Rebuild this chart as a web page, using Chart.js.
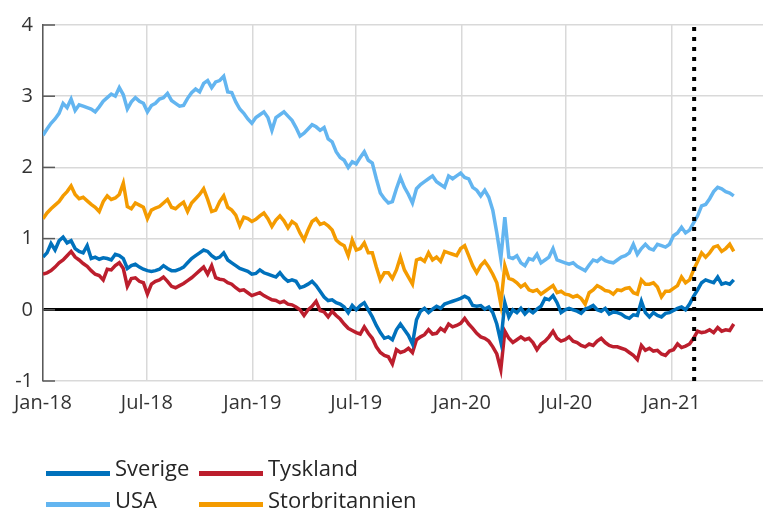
<!DOCTYPE html>
<html>
<head>
<meta charset="utf-8">
<script src="https://cdn.jsdelivr.net/npm/chart.js@4.4.0/dist/chart.umd.min.js"></script>
<style>
  body { margin: 0; background: #fff; }
  #wrap { position: relative; width: 764px; height: 512px; font-family: 'Open Sans', sans-serif; color: #262626; }
  .key { position: absolute; width: 64px; height: 5px; }
  .lab { position: absolute; font-size: 22px; line-height: 22px; white-space: nowrap; }
</style>
</head>
<body>
<div id="wrap">
  <canvas id="chart" width="764" height="512"></canvas>
  <div id="legend"></div>
</div>
<script>
const seriesNames = ['Sverige', 'Tyskland', 'USA', 'Storbritannien']
const seriesColors = ['#0071bc', '#bc1e2d', '#63b5f0', '#f49b00']

// x axis is days since 1 Jan 2018
const tickDays = [0, 181, 365, 546, 730, 912, 1096]
const tickLabels = ['Jan-18', 'Jul-18', 'Jan-19', 'Jul-19', 'Jan-20', 'Jul-20', 'Jan-21']
const markerDay = 1135   // dotted line, early Feb 2021
const lastDay = 1255

// weekly readings, Jan 2018 - Apr 2021
const sverige = [
  0.74, 0.80, 0.93, 0.84, 0.97, 1.02, 0.94, 0.97, 0.86, 0.82, 0.80, 0.90, 0.72, 0.74, 0.71, 0.73, 0.72, 0.70,
  0.78, 0.76, 0.72, 0.58, 0.62, 0.64, 0.60, 0.57, 0.55, 0.54, 0.55, 0.57, 0.62, 0.58, 0.55, 0.55, 0.57, 0.60,
  0.66, 0.72, 0.76, 0.80, 0.84, 0.82, 0.76, 0.72, 0.74, 0.80, 0.70, 0.66, 0.62, 0.58, 0.56, 0.54, 0.50, 0.51,
  0.56, 0.52, 0.50, 0.48, 0.46, 0.52, 0.45, 0.40, 0.42, 0.40, 0.31, 0.33, 0.36, 0.40, 0.34, 0.26, 0.18, 0.13,
  0.14, 0.10, 0.08, 0.04, -0.04, 0.06, 0.00, 0.06, 0.10, 0.00, -0.10, -0.22, -0.32, -0.40, -0.38, -0.42, -0.28, -0.20,
  -0.28, -0.36, -0.48, -0.14, -0.02, 0.02, -0.04, 0.01, 0.05, 0.02, 0.08, 0.10, 0.12, 0.14, 0.16, 0.19, 0.16, 0.06,
  0.05, 0.06, 0.01, 0.04, -0.04, -0.20, -0.45, 0.10, -0.10, 0.00, -0.04, 0.02, -0.06, 0.00, -0.04, 0.01, 0.05, 0.16,
  0.14, 0.20, 0.10, -0.04, 0.00, 0.02, 0.00, -0.02, -0.05, 0.01, 0.03, 0.06, 0.00, -0.02, 0.02, -0.06, -0.03, -0.04,
  -0.06, -0.10, -0.12, -0.07, -0.08, 0.12, -0.04, -0.10, -0.04, -0.08, -0.10, -0.05, -0.04, -0.01, 0.02,
  0.04, 0.00, 0.08, 0.19, 0.28, 0.38, 0.42, 0.40, 0.38, 0.46, 0.36, 0.38, 0.36, 0.42
]
const tyskland = [
  0.50, 0.52, 0.55, 0.60, 0.66, 0.70, 0.76, 0.82, 0.74, 0.70, 0.65, 0.61, 0.55, 0.50, 0.48, 0.42, 0.57, 0.56,
  0.62, 0.66, 0.58, 0.33, 0.44, 0.45, 0.40, 0.38, 0.22, 0.36, 0.40, 0.42, 0.46, 0.40, 0.33, 0.31, 0.34, 0.37,
  0.41, 0.45, 0.50, 0.55, 0.60, 0.50, 0.62, 0.45, 0.43, 0.42, 0.38, 0.36, 0.31, 0.27, 0.28, 0.24, 0.20, 0.22,
  0.24, 0.20, 0.17, 0.14, 0.13, 0.10, 0.12, 0.08, 0.07, 0.04, 0.00, -0.08, 0.00, 0.05, 0.12, -0.01, -0.03, -0.10,
  -0.02, -0.08, -0.13, -0.20, -0.26, -0.29, -0.32, -0.34, -0.24, -0.33, -0.40, -0.52, -0.60, -0.64, -0.66, -0.76, -0.56, -0.60,
  -0.58, -0.54, -0.60, -0.42, -0.38, -0.35, -0.28, -0.34, -0.33, -0.26, -0.30, -0.20, -0.24, -0.22, -0.19, -0.12, -0.20, -0.26,
  -0.33, -0.38, -0.40, -0.44, -0.52, -0.62, -0.84, -0.30, -0.40, -0.46, -0.42, -0.38, -0.42, -0.40, -0.46, -0.56, -0.48, -0.44,
  -0.38, -0.30, -0.40, -0.44, -0.42, -0.38, -0.44, -0.46, -0.50, -0.52, -0.48, -0.50, -0.44, -0.40, -0.46, -0.50, -0.52, -0.52,
  -0.54, -0.56, -0.60, -0.64, -0.70, -0.50, -0.57, -0.54, -0.58, -0.57, -0.62, -0.64, -0.58, -0.56, -0.48,
  -0.53, -0.51, -0.48, -0.40, -0.30, -0.32, -0.31, -0.28, -0.32, -0.25, -0.30, -0.28, -0.29, -0.20
]
const usa = [
  2.45, 2.54, 2.62, 2.68, 2.76, 2.90, 2.84, 2.96, 2.80, 2.88, 2.86, 2.84, 2.82, 2.78, 2.85, 2.93, 2.98, 3.03,
  3.00, 3.12, 3.02, 2.82, 2.92, 2.98, 2.93, 2.90, 2.78, 2.87, 2.90, 2.96, 2.98, 3.04, 2.94, 2.90, 2.86, 2.87,
  2.97, 3.05, 3.10, 3.06, 3.18, 3.22, 3.12, 3.20, 3.22, 3.28, 3.06, 3.05, 2.92, 2.82, 2.76, 2.68, 2.62, 2.70,
  2.74, 2.78, 2.70, 2.52, 2.70, 2.74, 2.78, 2.72, 2.66, 2.56, 2.44, 2.48, 2.54, 2.60, 2.57, 2.52, 2.56, 2.40,
  2.36, 2.22, 2.14, 2.10, 2.00, 2.08, 2.05, 2.14, 2.22, 2.10, 2.06, 1.84, 1.64, 1.56, 1.50, 1.52, 1.70, 1.86,
  1.72, 1.62, 1.50, 1.70, 1.76, 1.80, 1.84, 1.88, 1.80, 1.76, 1.72, 1.88, 1.84, 1.88, 1.92, 1.86, 1.84, 1.72,
  1.68, 1.60, 1.68, 1.58, 1.40, 1.08, 0.72, 1.30, 0.74, 0.72, 0.76, 0.66, 0.62, 0.72, 0.70, 0.78, 0.66, 0.70,
  0.74, 0.86, 0.70, 0.68, 0.66, 0.64, 0.66, 0.61, 0.58, 0.55, 0.63, 0.70, 0.68, 0.73, 0.69, 0.67, 0.66, 0.70,
  0.74, 0.76, 0.80, 0.92, 0.78, 0.86, 0.92, 0.86, 0.84, 0.92, 0.90, 0.88, 0.92, 1.04, 1.08,
  1.16, 1.08, 1.12, 1.22, 1.32, 1.46, 1.48, 1.56, 1.66, 1.72, 1.70, 1.66, 1.64, 1.60
]
const storbritannien = [
  1.28, 1.36, 1.42, 1.47, 1.52, 1.60, 1.66, 1.74, 1.62, 1.56, 1.58, 1.53, 1.48, 1.44, 1.38, 1.52, 1.60, 1.55,
  1.57, 1.62, 1.78, 1.45, 1.42, 1.50, 1.47, 1.44, 1.28, 1.40, 1.43, 1.45, 1.50, 1.55, 1.44, 1.42, 1.47, 1.51,
  1.38, 1.50, 1.56, 1.62, 1.70, 1.55, 1.38, 1.40, 1.52, 1.60, 1.44, 1.40, 1.33, 1.18, 1.30, 1.28, 1.24, 1.27,
  1.32, 1.36, 1.28, 1.17, 1.26, 1.32, 1.25, 1.15, 1.24, 1.20, 1.08, 0.98, 1.12, 1.24, 1.28, 1.20, 1.22, 1.18,
  1.12, 0.98, 0.93, 0.90, 0.76, 0.98, 0.84, 0.86, 0.94, 0.80, 0.80, 0.60, 0.42, 0.52, 0.52, 0.44, 0.56, 0.74,
  0.56, 0.46, 0.36, 0.70, 0.72, 0.68, 0.80, 0.70, 0.74, 0.68, 0.82, 0.80, 0.78, 0.76, 0.86, 0.90, 0.76, 0.62,
  0.52, 0.62, 0.68, 0.60, 0.50, 0.38, 0.08, 0.62, 0.44, 0.42, 0.38, 0.32, 0.36, 0.28, 0.26, 0.28, 0.22, 0.26,
  0.30, 0.34, 0.24, 0.26, 0.22, 0.21, 0.18, 0.20, 0.16, 0.08, 0.24, 0.28, 0.34, 0.31, 0.27, 0.26, 0.22, 0.28,
  0.27, 0.30, 0.31, 0.24, 0.22, 0.42, 0.36, 0.36, 0.38, 0.32, 0.18, 0.26, 0.26, 0.30, 0.34,
  0.46, 0.38, 0.42, 0.56, 0.68, 0.80, 0.74, 0.80, 0.88, 0.90, 0.82, 0.86, 0.92, 0.82
]
const seriesValues = [sverige, tyskland, usa, storbritannien]

const weekDays = sverige.map((v, i) => i * 7)

function toPoints (values) {
  return values.map((v, i) => ({ x: weekDays[i], y: v }))
}

const gridGrey = '#d9d9d9'
const textColor = '#333333'

// small inward tick marks on the y axis, like the original
const innerTicks = {
  id: 'innerTicks',
  beforeDatasetsDraw (chart) {
    const { ctx, chartArea, scales } = chart
    ctx.save()
    ctx.strokeStyle = '#595959'
    ctx.lineWidth = 1.5
    for (const t of scales.y.ticks) {
      const py = scales.y.getPixelForValue(t.value)
      ctx.beginPath()
      ctx.moveTo(chartArea.left, py)
      ctx.lineTo(chartArea.left + 12, py)
      ctx.stroke()
    }
    ctx.restore()
  }
}

const datasets = [{
  label: 'marker',
  data: [{ x: markerDay, y: -1 }, { x: markerDay, y: 4 }],
  borderColor: '#000000',
  borderWidth: 4,
  borderDash: [4, 6],
  pointRadius: 0
}]
seriesNames.forEach((name, i) => {
  datasets.push({
    label: name,
    data: toPoints(seriesValues[i]),
    borderColor: seriesColors[i],
    backgroundColor: seriesColors[i],
    borderWidth: 3.5,
    pointRadius: 0,
    tension: 0
  })
})

const chart = new Chart(document.getElementById('chart'), {
  type: 'line',
  data: { datasets: datasets },
  plugins: [innerTicks],
  options: {
    responsive: false,
    animation: false,
    devicePixelRatio: 1,
    layout: { padding: { top: 25, right: 1, left: 0, bottom: 0 } },
    plugins: {
      legend: { display: false },
      tooltip: { enabled: false }
    },
    scales: {
      x: {
        type: 'linear',
        min: 0,
        max: lastDay,
        afterBuildTicks (scale) {
          scale.ticks = tickDays.map(v => ({ value: v }))
        },
        afterFit (scale) {
          scale.height = 131
        },
        ticks: {
          autoSkip: false,
          maxRotation: 0,
          padding: 10,
          color: textColor,
          font: { family: 'Open Sans', size: 20 },
          callback: (value) => tickLabels[tickDays.indexOf(value)]
        },
        grid: { color: gridGrey, lineWidth: 1.5, drawTicks: false },
        border: { display: false }
      },
      y: {
        min: -1,
        max: 4,
        afterFit (scale) {
          scale.width = 43
        },
        ticks: {
          stepSize: 1,
          padding: 10,
          color: textColor,
          font: { family: 'Open Sans', size: 20 }
        },
        grid: {
          drawTicks: false,
          color: (c) => c.tick && c.tick.value === 0 ? '#000000' : gridGrey,
          lineWidth: (c) => c.tick && c.tick.value === 0 ? 3 : 1.5
        },
        border: { display: true, color: '#595959', width: 1.5 }
      }
    }
  }
})

// legend: two rows of two, as in the original
const legendSpots = [
  { keyX: 46, textX: 115, keyY: 471, textY: 456 },
  { keyX: 199, textX: 268, keyY: 471, textY: 456 },
  { keyX: 46, textX: 115, keyY: 502, textY: 488 },
  { keyX: 199, textX: 268, keyY: 502, textY: 488 }
]
const legend = document.getElementById('legend')
seriesNames.forEach((name, i) => {
  const s = legendSpots[i]
  const key = document.createElement('div')
  key.className = 'key'
  key.style.left = s.keyX + 'px'
  key.style.top = s.keyY + 'px'
  key.style.background = seriesColors[i]
  legend.appendChild(key)
  const lab = document.createElement('div')
  lab.className = 'lab'
  lab.style.left = s.textX + 'px'
  lab.style.top = s.textY + 'px'
  lab.textContent = name
  legend.appendChild(lab)
})
</script>
</body>
</html>
